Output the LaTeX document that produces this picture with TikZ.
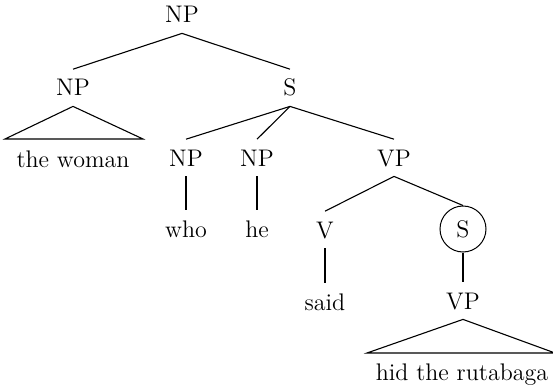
\documentclass[tikz,border=0pt]{standalone}
\begin{document}
\begin{tikzpicture}[x=0.5pt,y=-0.5pt,
  lab/.style={anchor=base,inner xsep=1pt,inner ysep=5pt,text height=8.2pt,text depth=0pt,font=\fontsize{12}{14}\selectfont},
  circ/.style={circle,draw,line width=0.5pt,minimum size=23pt,inner sep=0pt,text height=8.2pt,text depth=0pt,font=\fontsize{12}{14}\selectfont},
  edge/.style={line width=0.55pt}]
\useasboundingbox (0,0) rectangle (553,391);
\node[lab] (np0) at (182,23) {NP};
\node[lab] (np1) at (73,96) {NP};
\node[lab] (s1) at (290,96) {S};
\node[lab] (woman) at (73,168) {the woman};
\node[lab] (npwho) at (186,166) {NP};
\node[lab] (nphe) at (257,166) {NP};
\node[lab] (vp1) at (394,166) {VP};
\node[lab] (who) at (186,237) {who};
\node[lab] (he) at (257,237) {he};
\node[lab] (v) at (325,238) {V};
\node[circ] (s2) at (463,229) {S};
\node[lab] (said) at (325,310) {said};
\node[lab] (vp2) at (463,309) {VP};
\node[lab] (rut) at (462,380) {hid the rutabaga};
\coordinate (t1l) at (5,139);
\coordinate (t1r) at (143,139);
\coordinate (t2l) at (367,353);
\coordinate (t2r) at (555,353);
\draw[edge] (np0.south) -- (np1.north);
\draw[edge] (np0.south) -- (s1.north);
\draw[edge] (np1.south) -- (t1l) -- (t1r) -- cycle;
\draw[edge] (s1.south) -- (npwho.north);
\draw[edge] (s1.south) -- (nphe.north);
\draw[edge] (s1.south) -- (vp1.north);
\draw[edge] (npwho.south) -- (who.north);
\draw[edge] (nphe.south) -- (he.north);
\draw[edge] (vp1.south) -- (v.north);
\draw[edge] (vp1.south) -- (s2.north);
\draw[edge] (v.south) -- (said.north);
\draw[edge] (s2.south) -- (vp2.north);
\draw[edge] (vp2.south) -- (t2l) -- (t2r) -- cycle;
\end{tikzpicture}
\end{document}
